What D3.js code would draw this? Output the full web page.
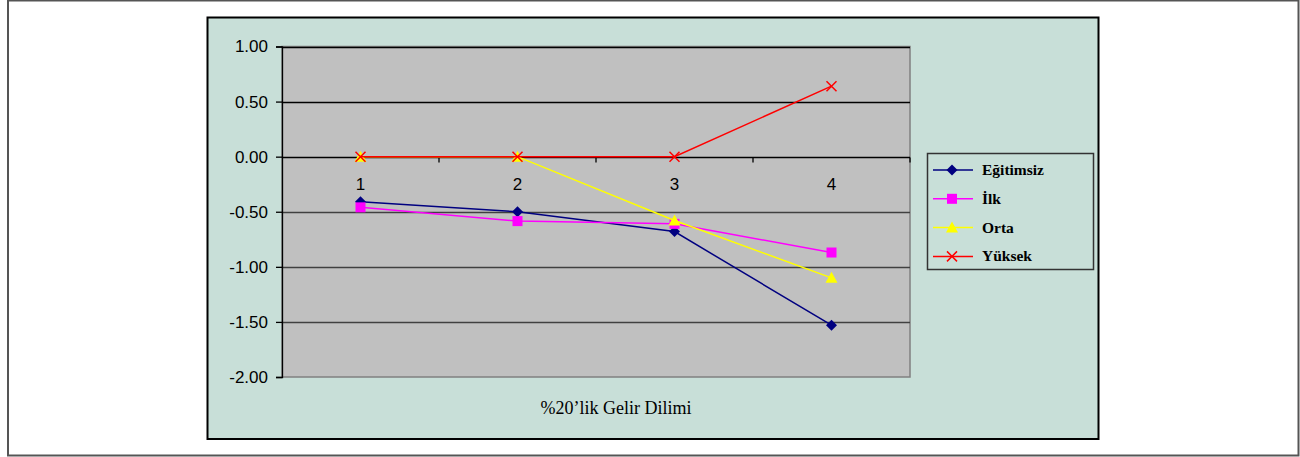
<!DOCTYPE html>
<html>
<head>
<meta charset="utf-8">
<script src="https://cdn.jsdelivr.net/npm/d3@7/dist/d3.min.js"></script>
<style>
html,body{margin:0;padding:0;background:#fff;}
svg{display:block;}
</style>
</head>
<body>
<svg id="chart" width="1300" height="457"></svg>
<script>
const categories = ["1", "2", "3", "4"];
const egitimsiz = [-0.41, -0.50, -0.68, -1.53];
const ilk = [-0.46, -0.585, -0.61, -0.87];
const orta = [0, 0, -0.58, -1.10];
const yuksek = [0, 0, 0, 0.64];
const seriesNames = ["Eğitimsiz", "İlk", "Orta", "Yüksek"];
const yTicks = [1.0, 0.5, 0.0, -0.5, -1.0, -1.5, -2.0];
const xTitle = "%20’lik Gelir Dilimi";

const series = [
  {name: seriesNames[0], values: egitimsiz, color: "#000080", marker: "diamond"},
  {name: seriesNames[1], values: ilk, color: "#FF00FF", marker: "square"},
  {name: seriesNames[2], values: orta, color: "#FFFF00", marker: "triangle"},
  {name: seriesNames[3], values: yuksek, color: "#FF0000", marker: "x"}
];

const svg = d3.select("#chart");

// outer frame
svg.append("rect").attr("x", 8).attr("y", 0.5).attr("width", 1290.5).attr("height", 455)
  .attr("fill", "#fff").attr("stroke", "#555").attr("stroke-width", 2);

// chart area
svg.append("rect").attr("x", 207.5).attr("y", 17.5).attr("width", 891).attr("height", 421.5)
  .attr("fill", "#C8DFD8").attr("stroke", "#000").attr("stroke-width", 2);

const plot = {left: 282, right: 910, top: 46.5, bottom: 377};

const x = d3.scaleBand().domain(categories).range([plot.left, plot.right]).padding(0);
const y = d3.scaleLinear().domain([-2, 1]).range([plot.bottom, plot.top]);
const cx = c => x(c) + x.bandwidth() / 2;

// plot area background
svg.append("rect").attr("x", plot.left).attr("y", plot.top)
  .attr("width", plot.right - plot.left).attr("height", plot.bottom - plot.top)
  .attr("fill", "#C0C0C0").attr("stroke", "#808080").attr("stroke-width", 1.5);

// gridlines
svg.append("g").selectAll("line").data(yTicks.filter(t => t !== -2)).join("line")
  .attr("x1", plot.left).attr("x2", plot.right)
  .attr("y1", d => Math.round(y(d)) + 0.5).attr("y2", d => Math.round(y(d)) + 0.5)
  .attr("stroke", d => d >= 0 ? "#000" : "#404040").attr("stroke-width", 1.3);

// y axis
const fmt = d => d3.format(".2f")(d).replace("−", "-");
const yAxis = d3.axisLeft(y).tickValues(yTicks).tickFormat(fmt).tickSize(6).tickPadding(8);
const yg = svg.append("g").attr("transform", `translate(${plot.left},0)`).call(yAxis);
yg.select(".domain").attr("stroke", "#000").attr("stroke-width", 1.3);
yg.selectAll(".tick line").attr("stroke", "#000").attr("stroke-width", 1.3);
yg.selectAll(".tick text").attr("font-family", "Liberation Sans, Arial, sans-serif")
  .attr("font-size", 17).attr("fill", "#000");

// x axis at y = 0
const xAxis = d3.axisBottom(x).tickSize(0).tickPadding(20);
const xg = svg.append("g").attr("transform", `translate(0,${Math.round(y(0)) + 0.5})`).call(xAxis);
xg.select(".domain").remove();
xg.selectAll(".tick text").attr("font-family", "Liberation Sans, Arial, sans-serif")
  .attr("font-size", 17).attr("fill", "#000");
// tick marks between categories
const boundaries = categories.slice(1).map(c => x(c)).concat([plot.right]);
xg.append("g").selectAll("line").data(boundaries).join("line")
  .attr("x1", d => d).attr("x2", d => d).attr("y1", 0).attr("y2", 5)
  .attr("stroke", "#000").attr("stroke-width", 1.3);

// x title
svg.append("text").attr("x", 616).attr("y", 414).attr("text-anchor", "middle")
  .attr("font-family", "Liberation Serif, Times New Roman, serif").attr("font-size", 18)
  .attr("fill", "#000").text(xTitle);

function drawMarker(g, type, color, px, py) {
  if (type === "diamond") {
    g.append("path").attr("d", `M${px},${py - 5.5}L${px + 5.5},${py}L${px},${py + 5.5}L${px - 5.5},${py}Z`)
      .attr("fill", color);
  } else if (type === "square") {
    g.append("rect").attr("x", px - 5).attr("y", py - 5).attr("width", 10).attr("height", 10).attr("fill", color);
  } else if (type === "triangle") {
    g.append("path").attr("d", `M${px},${py - 6}L${px + 6},${py + 5}L${px - 6},${py + 5}Z`).attr("fill", color);
  } else if (type === "x") {
    g.append("path").attr("d", `M${px - 5},${py - 5}L${px + 5},${py + 5}M${px - 5},${py + 5}L${px + 5},${py - 5}`)
      .attr("stroke", color).attr("stroke-width", 1.5).attr("fill", "none");
  }
}

const line = d3.line().x((d, i) => cx(categories[i])).y(d => y(d));
series.forEach(s => {
  const g = svg.append("g");
  g.append("path").attr("d", line(s.values)).attr("fill", "none").attr("stroke", s.color).attr("stroke-width", 1.5);
  s.values.forEach((v, i) => drawMarker(g, s.marker, s.color, cx(categories[i]), y(v)));
});

// legend
const lg = svg.append("g");
lg.append("rect").attr("x", 927.5).attr("y", 153.5).attr("width", 166).attr("height", 116)
  .attr("fill", "#C8DFD8").attr("stroke", "#333").attr("stroke-width", 1.5);
series.forEach((s, i) => {
  const ly = 170 + i * 28.8;
  lg.append("line").attr("x1", 933).attr("x2", 973).attr("y1", ly).attr("y2", ly)
    .attr("stroke", s.color).attr("stroke-width", 1.5);
  drawMarker(lg, s.marker, s.color, 952, ly);
  lg.append("text").attr("x", 982).attr("y", ly + 5)
    .attr("font-family", "Liberation Serif, Times New Roman, serif").attr("font-weight", "bold")
    .attr("font-size", 15.5).attr("fill", "#000").text(s.name);
});
</script>
</body>
</html>
